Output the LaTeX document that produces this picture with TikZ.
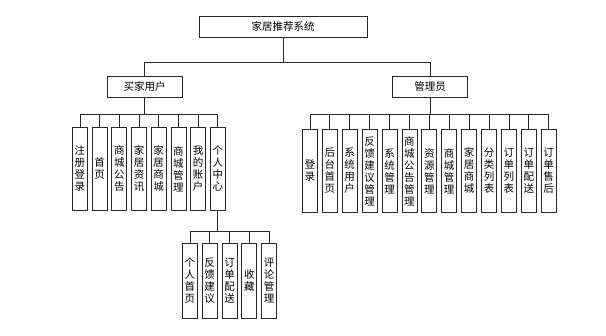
\documentclass[tikz,border=0pt]{standalone}
\usepackage{fontspec}
\setmainfont{Noto Sans CJK SC}
\usetikzlibrary{positioning}
\definecolor{linec}{RGB}{40,40,40}
\tikzset{
  topbox/.style={draw=linec, line width=0.8pt, minimum width=168pt, minimum height=21pt, inner sep=0pt, font=\fontsize{10.5}{12}\selectfont},
  rolebox/.style={topbox, minimum width=75pt},
  itembox/.style={draw=linec, line width=0.8pt, minimum width=15pt, inner sep=0pt, align=center, anchor=north west, font=\fontsize{10.5}{12}\selectfont},
  link/.style={line width=0.8pt, linec},
}

\begin{document}
\begin{tikzpicture}[x=1pt,y=-1pt]
  \useasboundingbox (0,0) rectangle (606,336);
  % system and the two roles
  \node[topbox] (sys) at (283,26.5) {家居推荐系统};
  \node[rolebox] (buyer) at (144.5,86.5) {买家用户};
  \node[rolebox] (admin) at (430,86.5) {管理员};
  \coordinate (rbus) at (0,62);
  \draw[link] (sys.south) -- (sys.south |- rbus) -| (buyer.north);
  \draw[link] (sys.south |- rbus) -| (admin.north);
  % buyer functions
  \coordinate (bbus) at (0,114);
  \foreach \t [count=\i from 0] in {{注\\册\\登\\录},{首\\页},{商\\城\\公\\告},{家\\居\\资\\讯},{家\\居\\商\\城},{商\\城\\管\\理},{我\\的\\账\\户},{个\\人\\中\\心}} {
    \node[itembox, minimum height=83pt] (b\i) at ({72+19.7*\i},127) {\t};
    \draw[link] (buyer.south) -- (buyer.south |- bbus) -| (b\i.north);
  }
  % personal centre
  \coordinate (pbus) at (0,231);
  \foreach \t [count=\i from 0] in {{个\\人\\首\\页},{反\\馈\\建\\议},{订\\单\\配\\送},{收\\藏},{评\\论\\管\\理}} {
    \node[itembox, minimum height=75pt] (p\i) at ({182+19.8*\i},243) {\t};
    \draw[link] (b7.south) -- (b7.south |- pbus) -| (p\i.north);
  }
  % admin functions
  \coordinate (abus) at (0,114);
  \foreach \t [count=\i from 0] in {{登\\录},{后\\台\\首\\页},{系\\统\\用\\户},{反\\馈\\建\\议\\管\\理},{系\\统\\管\\理},{商\\城\\公\\告\\管\\理},{资\\源\\管\\理},{商\\城\\管\\理},{家\\居\\商\\城},{分\\类\\列\\表},{订\\单\\列\\表},{订\\单\\配\\送},{订\\单\\售\\后}} {
    \node[itembox, minimum height=83pt] (a\i) at ({302+19.9*\i},129) {\t};
    \draw[link] (admin.south) -- (admin.south |- abus) -| (a\i.north);
  }
\end{tikzpicture}
\end{document}
